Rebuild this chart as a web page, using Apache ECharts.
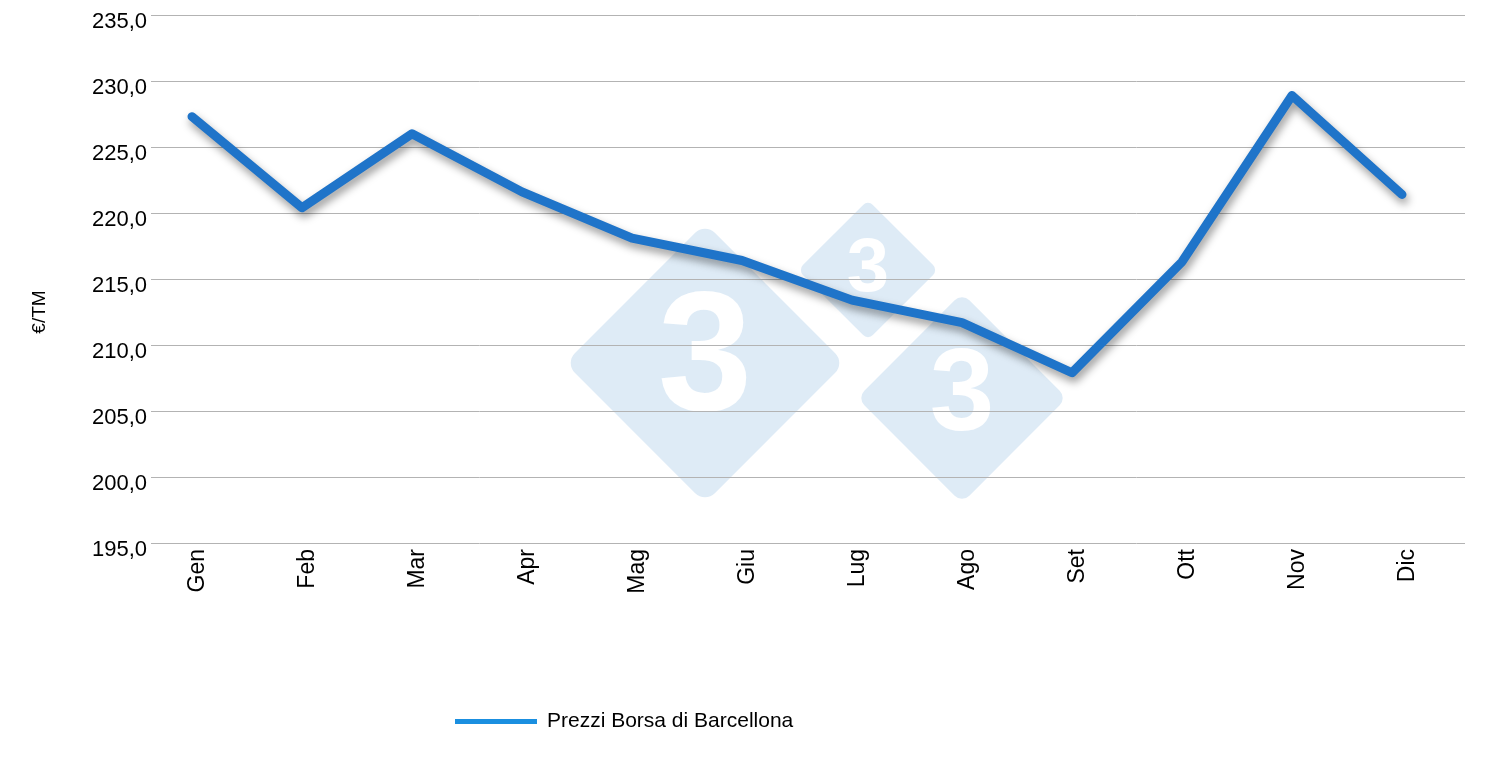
<!DOCTYPE html>
<html lang="it">

<head>
    <meta charset="UTF-8">
    <title>Prezzi Borsa di Barcellona</title>
    <script src="https://cdn.jsdelivr.net/npm/echarts@6/dist/echarts.min.js"></script>
    <style>
        html, body { margin: 0; padding: 0; background: #fff; }
        #chart { width: 1485px; height: 775px; }
    </style>
</head>

<body>
    <div id="chart"></div>
    <script>
        // dati
        var mesi = ['Gen', 'Feb', 'Mar', 'Apr', 'Mag', 'Giu', 'Lug', 'Ago', 'Set', 'Ott', 'Nov', 'Dic']
        var prezzi = [227.3, 220.4, 226.0, 221.6, 218.1, 216.4, 213.4, 211.7, 207.9, 216.3, 228.9, 221.4]
        var serieNome = 'Prezzi Borsa di Barcellona'
        var yMin = 195, yMax = 235, yStep = 5

        var font = "'Liberation Sans', Arial, sans-serif"
        var mCharts = echarts.init(document.getElementById('chart'))

        // logo 333 in filigrana
        function rombo(cx, cy, half, size) {
            var side = half * Math.SQRT2
            return {
                type: 'group',
                z: -1,
                children: [{
                    type: 'rect',
                    x: cx, y: cy,
                    rotation: Math.PI / 4,
                    shape: { x: -side / 2, y: -side / 2, width: side, height: side, r: side * 0.07 },
                    style: { fill: 'rgba(200,222,240,0.6)' }
                }, {
                    type: 'text',
                    x: cx, y: cy,
                    style: {
                        text: '3', fill: '#fff', font: 'bold ' + size + 'px ' + font,
                        align: 'center', verticalAlign: 'middle'
                    }
                }]
            }
        }

        var option = {
            animation: false,
            textStyle: { fontFamily: font },
            grid: [
                { left: 151, right: 20, top: 15, bottom: 232 },   // griglia e asse y
                { left: 137, right: 28, top: 15, bottom: 232 }    // linea e mesi
            ],
            xAxis: [{
                gridIndex: 0, type: 'category', data: mesi, show: false
            }, {
                gridIndex: 1,
                type: 'category',
                data: mesi,
                axisLine: { show: false },
                axisTick: { show: false },
                axisLabel: {
                    rotate: 90, margin: 6, color: '#000', fontSize: 23, fontFamily: font,
                    verticalAlign: 'top', lineHeight: 12
                }
            }],
            yAxis: [{
                gridIndex: 0,
                type: 'value',
                min: yMin, max: yMax, interval: yStep,
                axisLine: { show: false },
                axisTick: { show: false },
                axisLabel: {
                    margin: 4, color: '#000', fontSize: 22, fontFamily: font,
                    verticalAlign: 'top', lineHeight: 13,
                    formatter: function(v) { return v.toFixed(1).replace('.', ',') }
                },
                splitLine: { lineStyle: { color: '#b3b3b3', width: 1 } }
            }, {
                gridIndex: 1,
                type: 'value',
                min: yMin, max: yMax, interval: yStep,
                show: false,
                splitLine: { show: false }
            }],
            legend: {
                left: 455, top: 711,
                padding: 0,
                itemWidth: 82, itemHeight: 5,
                textStyle: { color: '#000', fontSize: 21, fontFamily: font, padding: [0, 0, 0, 5] },
                data: [{
                    name: serieNome,
                    icon: 'rect',
                    itemStyle: { color: '#1a8fe0' },
                    lineStyle: { width: 0, color: '#1a8fe0', shadowBlur: 0, shadowOffsetX: 0, shadowOffsetY: 0 }
                }]
            },
            graphic: [
                rombo(705, 363, 140, 170),
                rombo(868, 270, 70, 76),
                rombo(962, 398, 105, 116),
                {
                    type: 'text',
                    x: 40, y: 312,
                    rotation: Math.PI / 2,
                    style: { text: '€/TM', fill: '#000', font: '19px ' + font, align: 'center', verticalAlign: 'middle' }
                }
            ],
            series: [{
                name: serieNome,
                type: 'line',
                xAxisIndex: 1,
                yAxisIndex: 1,
                data: prezzi,
                showSymbol: false,
                color: '#1f74c9',
                lineStyle: {
                    width: 9, color: '#1f74c9', cap: 'round', join: 'round',
                    shadowColor: 'rgba(0,0,0,0.4)', shadowBlur: 9, shadowOffsetX: 2, shadowOffsetY: 5
                }
            }]
        }
        mCharts.setOption(option)
    </script>
</body>

</html>
